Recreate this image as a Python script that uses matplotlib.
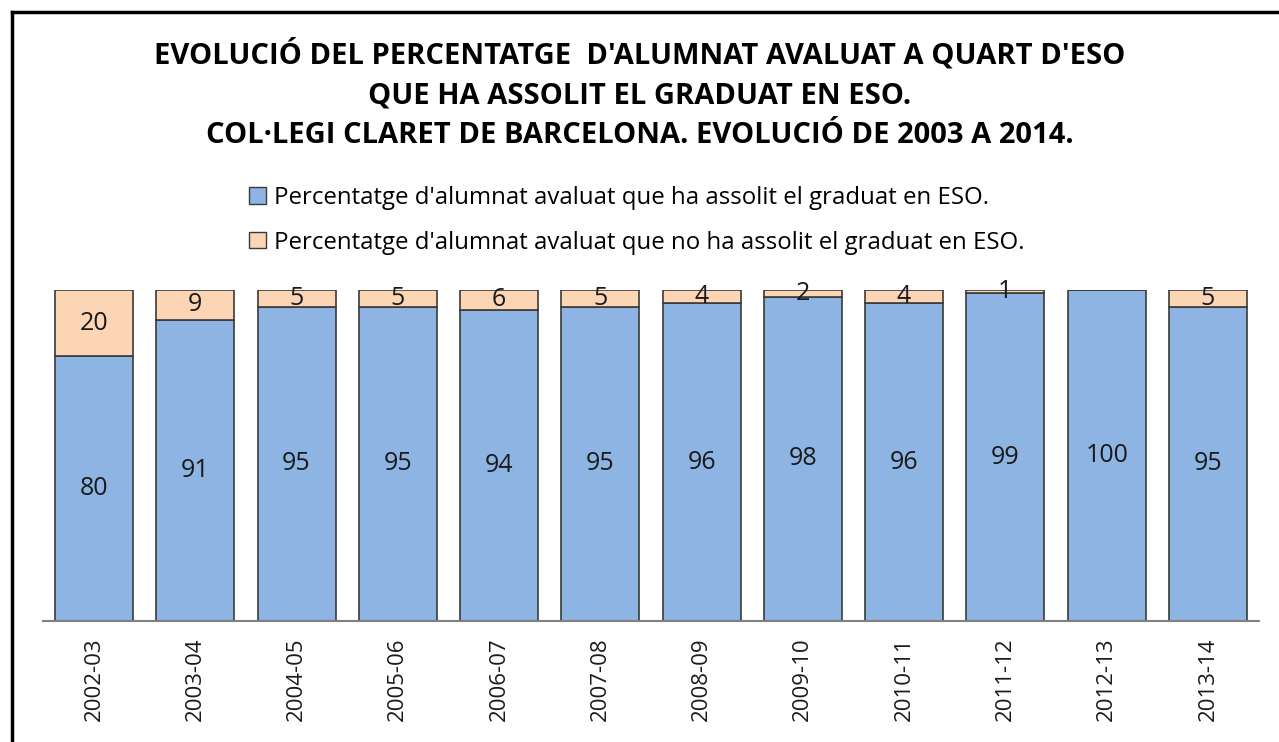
import matplotlib.pyplot as plt
import matplotlib.patches as mpatches
from matplotlib.lines import Line2D

plt.rcParams['font.family'] = ['Open Sans', 'DejaVu Sans']

cursos = ['2002-03', '2003-04', '2004-05', '2005-06', '2006-07', '2007-08',
          '2008-09', '2009-10', '2010-11', '2011-12', '2012-13', '2013-14']
graduats = [80, 91, 95, 95, 94, 95, 96, 98, 96, 99, 100, 95]
no_graduats = [20, 9, 5, 5, 6, 5, 4, 2, 4, 1, 0, 5]

BLUE = '#8EB4E3'
ORANGE = '#FCD5B5'
EDGE = '#3a3a3a'

fig = plt.figure(figsize=(12.79, 7.42), dpi=100)
ax = fig.add_axes([0.0339, 0.1631, 0.9501, 0.4461])

x = range(len(cursos))
b1 = ax.bar(x, graduats, width=0.77, color=BLUE, edgecolor=EDGE, lw=1.2)
b2 = ax.bar(x, no_graduats, width=0.77, bottom=graduats, color=ORANGE, edgecolor=EDGE, lw=1.2)

for i, (g, n) in enumerate(zip(graduats, no_graduats)):
    ax.text(i, g / 2, str(g), ha='center', va='center', fontsize=18, color='#1a1a1a')
    if n > 0:
        ax.text(i, g + n / 2, str(n), ha='center', va='center', fontsize=18, color='#1a1a1a')

ax.set_xlim(-0.5, len(cursos) - 0.5)
ax.set_ylim(0, 100)
ax.set_yticks([])
for s in ['top', 'right', 'left']:
    ax.spines[s].set_visible(False)
ax.spines['bottom'].set_color('#808080')
ax.spines['bottom'].set_linewidth(1.5)
ax.set_xticks(list(x))
ax.set_xticklabels(cursos, rotation=90, fontsize=16, color='#1a1a1a')
ax.tick_params(axis='x', length=0, pad=12)

fig.text(0.5, 0.915, "EVOLUCIÓ DEL PERCENTATGE  D'ALUMNAT AVALUAT A QUART D'ESO",
         ha='center', va='baseline', fontsize=21, fontweight='bold')
fig.text(0.5, 0.861, "QUE HA ASSOLIT EL GRADUAT EN ESO.",
         ha='center', va='baseline', fontsize=21, fontweight='bold')
fig.text(0.5, 0.807, "COL·LEGI CLARET DE BARCELONA. EVOLUCIÓ DE 2003 A 2014.",
         ha='center', va='baseline', fontsize=21, fontweight='bold')

handles = [mpatches.Patch(facecolor=BLUE, edgecolor=EDGE),
           mpatches.Patch(facecolor=ORANGE, edgecolor=EDGE)]
labels = ["Percentatge d'alumnat avaluat que ha assolit el graduat en ESO.",
          "Percentatge d'alumnat avaluat que no ha assolit el graduat en ESO."]
fig.legend(handles, labels, loc='center left', bbox_to_anchor=(0.178, 0.703),
           frameon=False, fontsize=17.3, handlelength=0.68, handleheight=0.68,
           handletextpad=0.35, labelspacing=0.85)

# chart frame (left and top edges visible)
fig.add_artist(Line2D([0.0094, 0.0094], [0, 0.984], color='black', lw=2.5))
fig.add_artist(Line2D([0.0094, 1.0], [0.984, 0.984], color='black', lw=2.5))

fig.savefig('out.png', dpi=100)
